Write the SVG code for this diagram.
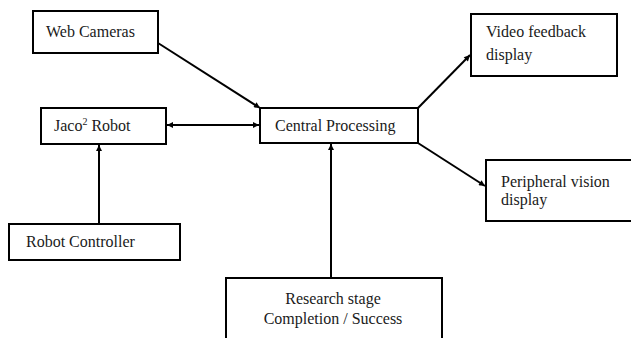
<svg xmlns="http://www.w3.org/2000/svg" width="631" height="338" viewBox="0 0 631 338">
<defs>
<style>
.box{fill:#fff;stroke:#000;stroke-width:2}
.t{font-family:'Liberation Serif','DejaVu Serif',serif;font-size:16px;fill:#1a1a1a}
.c{stroke:#000;stroke-width:2;fill:none}
</style>
<marker id="ah" viewBox="0 0 10 10" refX="10" refY="5" markerWidth="7" markerHeight="6" markerUnits="userSpaceOnUse" orient="auto-start-reverse">
<path d="M0,0 L10,5 L0,10 z" fill="#000"/>
</marker>
</defs>
<rect width="631" height="338" fill="#fff"/>
<g id="connectors">
<line class="c" x1="158" y1="43" x2="260" y2="108" marker-end="url(#ah)"/>
<line class="c" x1="167" y1="125" x2="259" y2="125" marker-start="url(#ah)" marker-end="url(#ah)"/>
<line class="c" x1="418" y1="108" x2="470" y2="55" marker-end="url(#ah)"/>
<line class="c" x1="418" y1="143" x2="485" y2="186" marker-end="url(#ah)"/>
<line class="c" x1="99" y1="224" x2="99" y2="145" marker-end="url(#ah)"/>
<line class="c" x1="331" y1="278" x2="331" y2="144" marker-end="url(#ah)"/>
</g>
<g id="web-cameras">
<rect class="box" x="33" y="11" width="125" height="42"/>
<text class="t" x="46" y="37" font-family="Liberation Serif, serif">Web Cameras</text>
</g>
<g id="jaco-robot">
<rect class="box" x="41" y="108" width="125" height="36"/>
<text class="t" x="54" y="131">Jaco<tspan font-size="10" dy="-6">2</tspan><tspan dy="6"> Robot</tspan></text>
</g>
<g id="central-processing">
<rect class="box" x="260" y="108" width="158" height="35"/>
<text class="t" x="275" y="131">Central Processing</text>
</g>
<g id="video-feedback">
<rect class="box" x="471" y="14" width="146" height="62"/>
<text class="t" x="486" y="37">Video feedback</text>
<text class="t" x="486" y="60">display</text>
</g>
<g id="peripheral-vision">
<rect class="box" x="486" y="160" width="150" height="61"/>
<text class="t" x="501" y="187">Peripheral vision</text>
<text class="t" x="501" y="205">display</text>
</g>
<g id="robot-controller">
<rect class="box" x="9" y="224" width="171" height="36"/>
<text class="t" x="26" y="247">Robot Controller</text>
</g>
<g id="research-stage">
<rect class="box" x="226" y="278" width="216" height="70"/>
<text class="t" x="333" y="304" text-anchor="middle">Research stage</text>
<text class="t" x="333" y="324" text-anchor="middle">Completion / Success</text>
</g>
</svg>
